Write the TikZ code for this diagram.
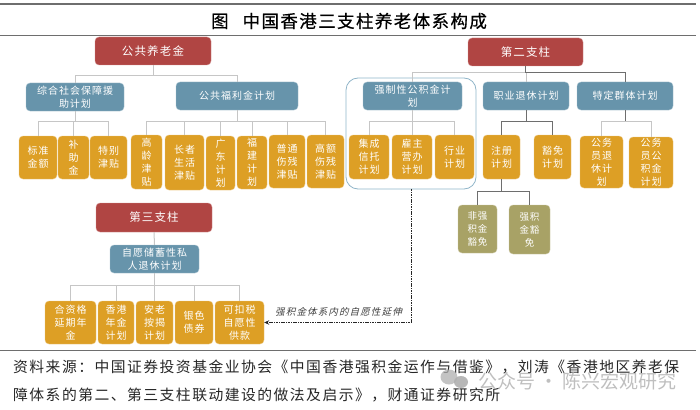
\documentclass[tikz,border=0pt]{standalone}
\usepackage{fontspec}
\setmainfont{Noto Sans CJK SC}
\newfontfamily\spacedcjk[LetterSpace=10]{Noto Sans CJK SC}
\newfontfamily\slantcjk[FakeSlant=0.25,LetterSpace=12]{Noto Sans CJK SC}
\newfontfamily\titlecjk[LetterSpace=8,FakeBold=0.6]{Noto Sans CJK SC}
\usetikzlibrary{arrows.meta, positioning, calc}
\definecolor{pillarred}{RGB}{176,69,67}
\definecolor{planblue}{RGB}{103,148,171}
\definecolor{leaforange}{RGB}{221,159,37}
\definecolor{leafolive}{RGB}{168,162,102}
\definecolor{linegray}{RGB}{198,198,198}
\definecolor{rulegray}{RGB}{110,110,110}
\definecolor{frameblue}{RGB}{143,180,200}
\definecolor{markgray}{RGB}{175,175,175}

\begin{document}
\begin{tikzpicture}[
  x=1pt, y=-1pt,
  base/.style={rectangle, rounded corners=4pt, inner sep=0pt, align=center, text=white},
  pillar/.style={base, fill=pillarred, draw=pillarred!60!white, font=\fontsize{11.5}{15}\spacedcjk},
  plan/.style={base, fill=planblue, draw=planblue!60!white, font=\fontsize{10}{12.5}\spacedcjk},
  leaf/.style={base, fill=leaforange, draw=leaforange!60!white, font=\fontsize{10}{13}\spacedcjk},
  oleaf/.style={base, fill=leafolive, draw=leafolive!60!white, font=\fontsize{9.5}{13}\spacedcjk},
  link/.style={linegray, line width=1pt},
  dlink/.style={rulegray, line width=0.9pt},
  rule/.style={rulegray, line width=0.8pt}
]
\path[use as bounding box] (0,0) rectangle (700,409);

% title and rules
\draw[rule, line width=1.4pt] (0,4) -- (696,4);
\draw[rule] (0,35) -- (696,35);
\draw[rule] (0,350) -- (696,350);
\node[font=\fontsize{17.5}{20}\titlecjk] (title) at (349,21) {图\hspace{0.8em}中国香港三支柱养老体系构成};

% pillars
\node[pillar, minimum width=116pt, minimum height=28pt] (pub) at (153,51) {公共养老金};
\node[pillar, minimum width=115pt, minimum height=28pt] (second) at (525.5,52) {第二支柱};
\node[pillar, minimum width=116pt, minimum height=29pt] (third) at (154,217.5) {第三支柱};

% plans
\node[plan, minimum width=98pt, minimum height=28pt] (zonghe) at (75,97) {综合社会保障援\\助计划};
\node[plan, minimum width=122pt, minimum height=28pt] (fuli) at (237,96) {公共福利金计划};
\node[plan, minimum width=99pt, minimum height=28pt] (qiangzhi) at (412.5,96) {强制性公积金计\\划};
\node[plan, minimum width=86pt, minimum height=28pt] (zhiye) at (526,96) {职业退休计划};
\node[plan, minimum width=96pt, minimum height=28pt] (teding) at (625,96) {特定群体计划};
\node[plan, minimum width=89pt, minimum height=28pt] (ziyuan) at (154.5,259) {自愿储蓄性私\\人退休计划};

% first pillar leaves
\node[leaf, minimum width=38pt, minimum height=43pt] (biaozhun) at (38,157.5) {标准\\金额};
\node[leaf, minimum width=31pt, minimum height=43pt] (buzhu) at (73.5,157.5) {补\\助\\金};
\node[leaf, minimum width=37pt, minimum height=43pt] (tebie) at (108.5,157.5) {特别\\津贴};
\node[leaf, minimum width=31pt, minimum height=54pt] (gaoling) at (146.5,162) {高\\龄\\津\\贴};
\node[leaf, minimum width=39pt, minimum height=55pt] (zhangzhe) at (184.5,162.5) {长者\\生活\\津贴};
\node[leaf, minimum width=29pt, minimum height=54pt] (guangdong) at (220.5,163) {广\\东\\计\\划};
\node[leaf, minimum width=30pt, minimum height=53pt] (fujian) at (252,162.5) {福\\建\\计\\划};
\node[leaf, minimum width=36pt, minimum height=53pt] (putong) at (287,161.5) {普通\\伤残\\津贴};
\node[leaf, minimum width=37pt, minimum height=53pt] (gaoe) at (325.5,161.5) {高额\\伤残\\津贴};

% second pillar leaves
\node[leaf, minimum width=40pt, minimum height=44pt] (jicheng) at (369,157) {集成\\信托\\计划};
\node[leaf, minimum width=40pt, minimum height=44pt] (guzhu) at (412,157) {雇主\\营办\\计划};
\node[leaf, minimum width=39pt, minimum height=44pt] (hangye) at (454.5,157) {行业\\计划};
\node[leaf, minimum width=37pt, minimum height=44pt] (zhuce) at (501.5,157) {注册\\计划};
\node[leaf, minimum width=37pt, minimum height=44pt] (huomian) at (552.5,157) {豁免\\计划};
\node[leaf, minimum width=43pt, minimum height=52pt] (gwytuixiu) at (601.5,162) {公务\\员退\\休计\\划};
\node[leaf, minimum width=44pt, minimum height=51pt] (gwygongji) at (651,162.5) {公务\\员公\\积金\\计划};
\node[oleaf, minimum width=39pt, minimum height=48pt] (feiqiang) at (477.5,229) {非强\\积金\\豁免};
\node[oleaf, minimum width=41pt, minimum height=49pt] (qiangji) at (529.5,229.5) {强积\\金豁\\免};

% third pillar leaves
\node[leaf, minimum width=51pt, minimum height=43pt] (hezige) at (70.5,322.5) {合资格\\延期年\\金};
\node[leaf, minimum width=36pt, minimum height=43pt] (nianjin) at (116,322.5) {香港\\年金\\计划};
\node[leaf, minimum width=37pt, minimum height=43pt] (anlao) at (154.5,322.5) {安老\\按揭\\计划};
\node[leaf, minimum width=38pt, minimum height=43pt] (yinse) at (194,322.5) {银色\\债券};
\node[leaf, minimum width=49pt, minimum height=43pt] (kekou) at (239.5,322.5) {可扣税\\自愿性\\供款};

% frame round the mandatory plan
\node[draw=frameblue, line width=0.8pt, rounded corners=12pt, inner sep=0pt, minimum width=130pt, minimum height=111pt] (mpf) at (411,133.5) {};

% connectors
\draw[link] (pub.south) -- ++(0,10) -| (zonghe.north);
\draw[link] (pub.south) -- ++(0,10) -| (fuli.north);
\draw[link] (zonghe.south) -- ++(0,10) -| (biaozhun.north);
\draw[link] (zonghe.south) -- ++(0,10) -| (buzhu.north);
\draw[link] (zonghe.south) -- ++(0,10) -| (tebie.north);
\draw[link] (fuli.south) -- ++(0,11) -| (gaoling.north);
\draw[link] (fuli.south) -- ++(0,11) -| (zhangzhe.north);
\draw[link] (fuli.south) -- ++(0,11) -| (guangdong.north);
\draw[link] (fuli.south) -- ++(0,11) -| (fujian.north);
\draw[link] (fuli.south) -- ++(0,11) -| (putong.north);
\draw[link] (fuli.south) -- ++(0,11) -| (gaoe.north);
\draw[link] (second.south) -- ++(0,6) -| (qiangzhi.north);
\draw[link] (second.south) -- ++(0,6) -| (zhiye.north);
\draw[dlink] (second.south) -- ++(0,6) -| (teding.north);
\draw[link] (qiangzhi.south) -- ++(0,11) -| (jicheng.north);
\draw[link] (qiangzhi.south) -- ++(0,11) -| (guzhu.north);
\draw[link] (qiangzhi.south) -- ++(0,11) -| (hangye.north);
\draw[dlink] (zhiye.south) -- ++(0,11) -| (zhuce.north);
\draw[dlink] (zhiye.south) -- ++(0,11) -| (huomian.north);
\draw[link] (teding.south) -- ++(0,11) -| (gwytuixiu.north);
\draw[link] (teding.south) -- ++(0,11) -| (gwygongji.north);
\draw[dlink] (teding.south) -- ++(0,11);
\draw[dlink] (zhuce.south) -- ++(0,12) -| (feiqiang.north);
\draw[dlink] (zhuce.south) -- ++(0,12) -| (qiangji.north);
\draw[link] (third.south) -- (ziyuan.north);
\draw[link] (ziyuan.south) -- ++(0,12) -| (hezige.north);
\draw[link] (ziyuan.south) -- ++(0,12) -| (nianjin.north);
\draw[link] (ziyuan.south) -- ++(0,12) -| (anlao.north);
\draw[link] (ziyuan.south) -- ++(0,12) -| (yinse.north);
\draw[link] (ziyuan.south) -- ++(0,12) -| (kekou.north);

% voluntary extension
\draw[black!85, line width=0.6pt, dash pattern=on 1.6pt off 0.8pt, -{Stealth[length=5pt,width=4.5pt]}] (mpf.south) |- (kekou.east);
\node[font=\fontsize{9.5}{12}\slantcjk, text=black!75] (yanshen) at (338.5,312) {强积金体系内的自愿性延伸};

% source
\node[font=\fontsize{14.8}{28}\spacedcjk, align=left, anchor=north west, inner sep=0pt, text=black!85] (source) at (13,360) {资料来源：中国证券投资基金业协会《中国香港强积金运作与借鉴》，刘涛《香港地区养老保\\障体系的第二、第三支柱联动建设的做法及启示》，财通证券研究所};

% watermark
\fill[markgray, opacity=0.75] (449,377) ellipse (8.5pt and 7.5pt);
\fill[markgray, opacity=0.9] (461,382) ellipse (7pt and 6pt);
\node[font=\fontsize{19}{22}\selectfont, text=markgray, text opacity=0.8, anchor=west, inner sep=0pt] (mark) at (478,381) {公众号 · 陈兴宏观研究};
\end{tikzpicture}
\end{document}
